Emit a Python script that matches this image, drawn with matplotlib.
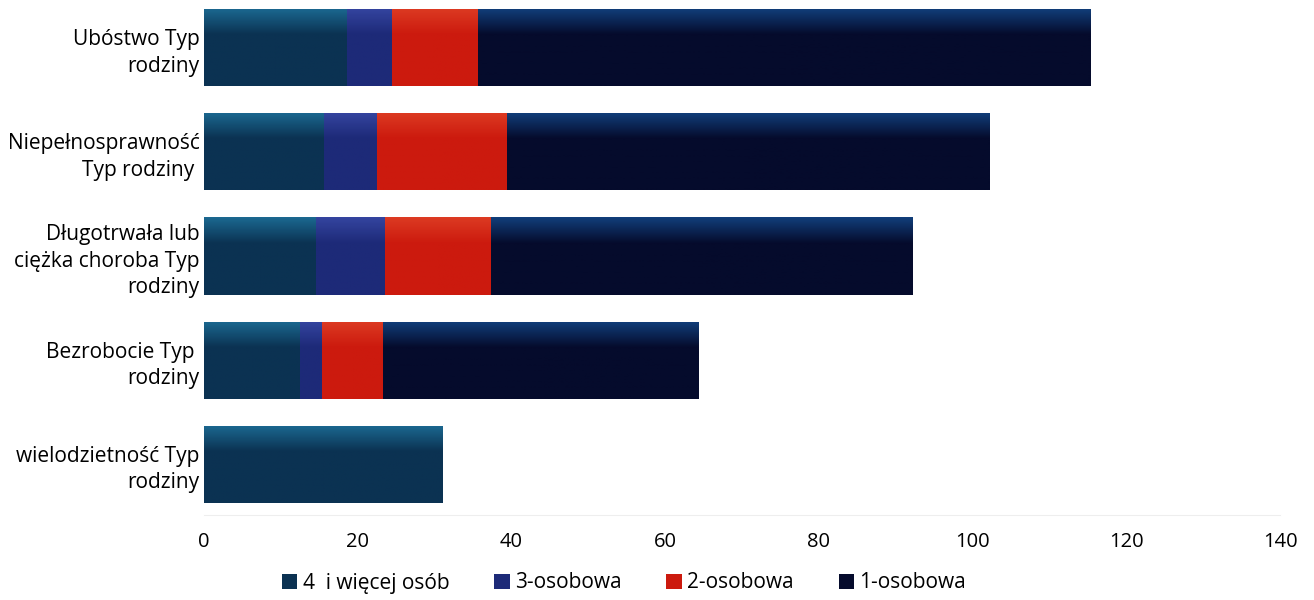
import numpy as np
import matplotlib
matplotlib.use("Agg")
from matplotlib import pyplot as plt
from matplotlib.colors import LinearSegmentedColormap

# categories (top to bottom) and stacked counts per family size
categories = ["Ubóstwo Typ\nrodziny",
              "Niepełnosprawność\nTyp rodziny ",
              "Długotrwała lub\nciężka choroba Typ\nrodziny",
              "Bezrobocie Typ \nrodziny",
              "wielodzietność Typ\nrodziny"]
series_names = ["4  i więcej osób", "3-osobowa", "2-osobowa", "1-osobowa"]
four_plus = [18.6, 15.6, 14.6, 12.5, 31]
three = [5.9, 6.9, 8.9, 2.8, 0]
two = [11.1, 16.9, 13.9, 8.0, 0]
one = [79.7, 62.8, 54.8, 41.1, 0]
xticks = [0, 20, 40, 60, 80, 100, 120, 140]

colors = ["#0b3252", "#1d2a78", "#cc1a0e", "#050b2c"]
tops = ["#1b6890", "#34449f", "#dc3a22", "#113e7a"]

plt.rcParams['font.family'] = ['Open Sans', 'DejaVu Sans']

fig = plt.figure(figsize=(13.14, 6), dpi=100)
ax = fig.add_axes([204 / 1314, 1 - 515 / 600, 1076 / 1314, 515 / 600])

y = np.arange(len(categories))
left = np.zeros(len(categories))
handles = []
for vals, name, c, ct in zip([four_plus, three, two, one], series_names, colors, tops):
    bars = ax.barh(y, vals, left=left, height=0.74, color=c, label=name, linewidth=0)
    handles.append(bars)
    # vertical shading like the original bars
    cmap = LinearSegmentedColormap.from_list(name, [ct, c, c, c])
    grad = np.linspace(0, 1, 64).reshape(-1, 1)
    for p in bars.patches:
        if p.get_width() <= 0:
            continue
        x0, y0, w, h = p.get_x(), p.get_y(), p.get_width(), p.get_height()
        im = ax.imshow(grad, cmap=cmap, aspect='auto', origin='upper',
                       extent=(x0, x0 + w, y0 + h, y0), zorder=2)
        im.set_clip_path(p)
    left += np.array(vals)

ax.set_xlim(0, 140)
ax.set_ylim(4.486, -0.457)
ax.set_yticks(y)
ax.set_yticklabels(categories, fontsize=15, multialignment='right', linespacing=1.35)
ax.set_xticks(xticks)
ax.tick_params(axis='both', length=0)
ax.tick_params(axis='x', labelsize=14.5, pad=12)
ax.tick_params(axis='y', pad=3)
for s in ax.spines.values():
    s.set_visible(False)
ax.spines['bottom'].set_visible(True)
ax.spines['bottom'].set_color('#eeeeee')

fig.legend(handles=handles, labels=series_names, loc='center',
           bbox_to_anchor=(624 / 1314, 1 - 583 / 600), ncol=4, frameon=False,
           fontsize=15, handlelength=0.75, handleheight=0.75, handletextpad=0.25,
           columnspacing=2.15)

fig.savefig("out.png", dpi=100)
